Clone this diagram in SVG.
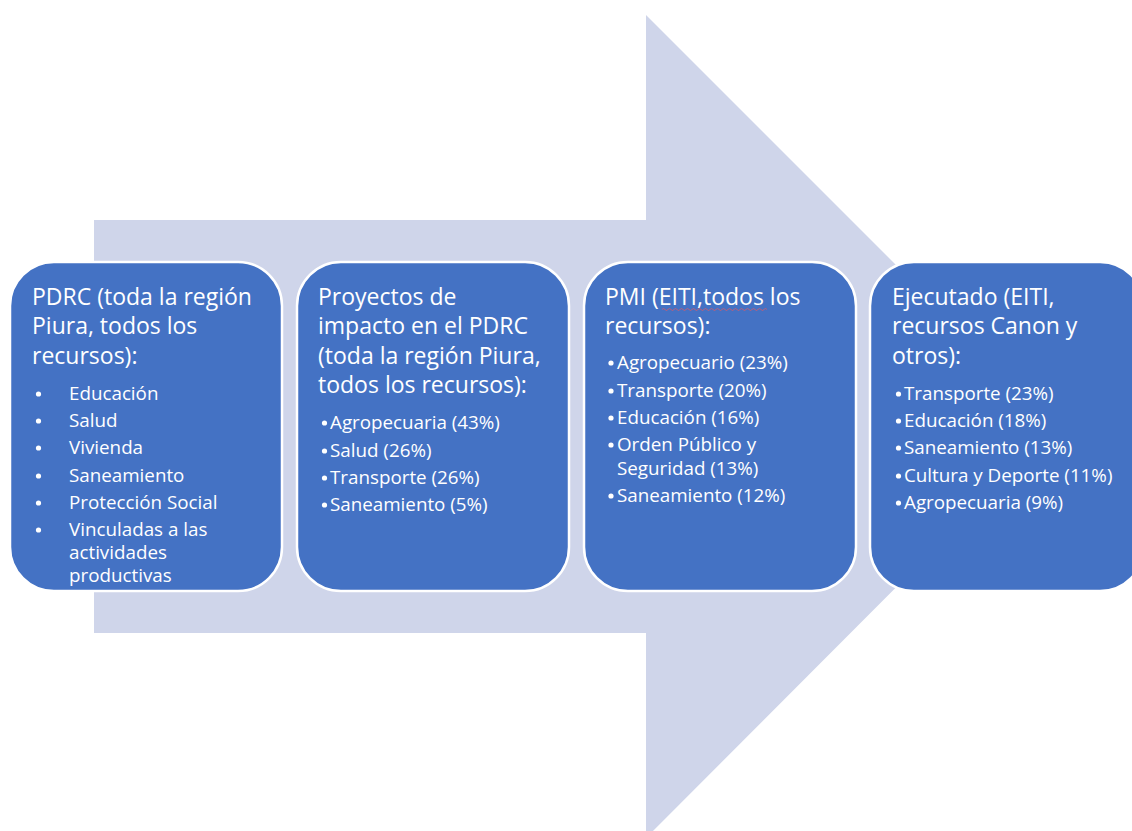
<svg xmlns="http://www.w3.org/2000/svg" width="1132" height="831" viewBox="0 0 1132 831">
<style>
.box{fill:#4472C4;stroke:#FFFFFF;stroke-width:2.5}
.t{font-family:"Open Sans",Lato,sans-serif;fill:#FFFFFF}
.h{font-size:23px}
.b{font-size:18.8px}
.dot{fill:#FFFFFF}
</style>
<rect width="1132" height="831" fill="#FFFFFF"/>
<g id="arrow">
<polygon points="94,220 646,220 646,15 1057,426 646,838 646,633 94,633" fill="#CFD5EA"/>
</g>
<g id="connectors"></g>
<g id="node1">
<rect class="box" x="10" y="262" width="272" height="329" rx="44"/>
<text class="t h"><tspan x="32" y="305">PDRC (toda la región</tspan><tspan x="32" y="334">Piura, todos los</tspan><tspan x="32" y="364">recursos):</tspan></text>
<circle class="dot" cx="38.5" cy="394" r="2.6"/><circle class="dot" cx="38.5" cy="421" r="2.6"/><circle class="dot" cx="38.5" cy="448" r="2.6"/><circle class="dot" cx="38.5" cy="476" r="2.6"/><circle class="dot" cx="38.5" cy="503" r="2.6"/><circle class="dot" cx="38.5" cy="530" r="2.6"/>
<text class="t b"><tspan x="69" y="400">Educación</tspan><tspan x="69" y="427">Salud</tspan><tspan x="69" y="454">Vivienda</tspan><tspan x="69" y="482">Saneamiento</tspan><tspan x="69" y="509">Protección Social</tspan><tspan x="69" y="536">Vinculadas a las</tspan><tspan x="69" y="559">actividades</tspan><tspan x="69" y="582">productivas</tspan></text>
</g>
<g id="node2">
<rect class="box" x="297" y="262" width="272" height="329" rx="44"/>
<text class="t h"><tspan x="318" y="305">Proyectos de</tspan><tspan x="318" y="334">impacto en el PDRC</tspan><tspan x="318" y="364">(toda la región Piura,</tspan><tspan x="318" y="393">todos los recursos):</tspan></text>
<circle class="dot" cx="324.5" cy="423" r="2.6"/><circle class="dot" cx="324.5" cy="451" r="2.6"/><circle class="dot" cx="324.5" cy="478" r="2.6"/><circle class="dot" cx="324.5" cy="505" r="2.6"/>
<text class="t b"><tspan x="330" y="429">Agropecuaria (43%)</tspan><tspan x="330" y="457">Salud (26%)</tspan><tspan x="330" y="484">Transporte (26%)</tspan><tspan x="330" y="511">Saneamiento (5%)</tspan></text>
</g>
<g id="node3">
<rect class="box" x="584" y="262" width="272" height="329" rx="44"/>
<text class="t h"><tspan x="605" y="305">PMI (EITI,todos los</tspan><tspan x="605" y="334">recursos):</tspan></text>
<path d="M662,309.5 q1.5,-2 3,0 t3,0 t3,0 t3,0 t3,0 t3,0 t3,0 t3,0 t3,0 t3,0 t3,0 t3,0 t3,0 t3,0 t3,0 t3,0 t3,0 t3,0 t3,0 t3,0 t3,0 t3,0 t3,0 t3,0 t3,0 t3,0 t3,0 t3,0 t3,0 t3,0 t3,0 t3,0 t3,0 t3,0 t3,0" fill="none" stroke="#D65A6A" stroke-width="0.8"/>
<circle class="dot" cx="611" cy="363" r="2.6"/><circle class="dot" cx="611" cy="391" r="2.6"/><circle class="dot" cx="611" cy="418" r="2.6"/><circle class="dot" cx="611" cy="445" r="2.6"/><circle class="dot" cx="611" cy="496" r="2.6"/>
<text class="t b"><tspan x="617" y="369">Agropecuario (23%)</tspan><tspan x="617" y="397">Transporte (20%)</tspan><tspan x="617" y="424">Educación (16%)</tspan><tspan x="617" y="451">Orden Público y</tspan><tspan x="617" y="475">Seguridad (13%)</tspan><tspan x="617" y="502">Saneamiento (12%)</tspan></text>
</g>
<g id="node4">
<rect class="box" x="870" y="262" width="274" height="329" rx="44"/>
<text class="t h"><tspan x="892" y="305">Ejecutado (EITI,</tspan><tspan x="892" y="334">recursos Canon y</tspan><tspan x="892" y="364">otros):</tspan></text>
<circle class="dot" cx="898.5" cy="394" r="2.6"/><circle class="dot" cx="898.5" cy="421" r="2.6"/><circle class="dot" cx="898.5" cy="448" r="2.6"/><circle class="dot" cx="898.5" cy="476" r="2.6"/><circle class="dot" cx="898.5" cy="503" r="2.6"/>
<text class="t b"><tspan x="904" y="400">Transporte (23%)</tspan><tspan x="904" y="427">Educación (18%)</tspan><tspan x="904" y="454">Saneamiento (13%)</tspan><tspan x="904" y="482">Cultura y Deporte (11%)</tspan><tspan x="904" y="509">Agropecuaria (9%)</tspan></text>
</g>
</svg>
